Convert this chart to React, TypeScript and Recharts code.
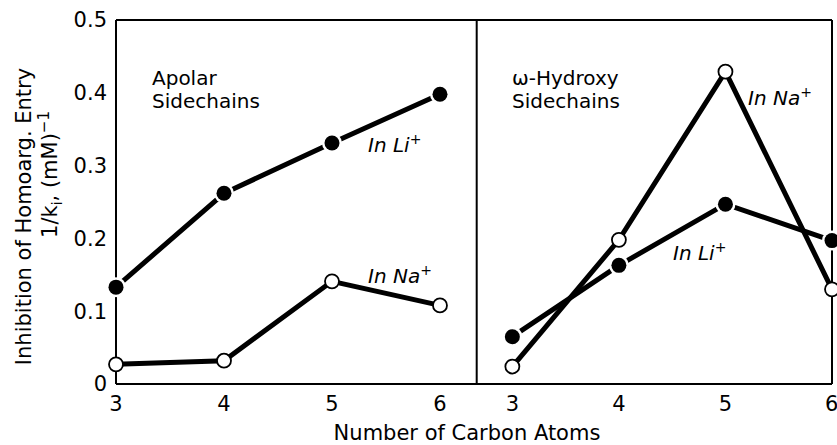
import { Line, LineChart, ReferenceLine, XAxis, YAxis } from 'recharts';

// number of carbon atoms in the sidechain
const carbons = [3, 4, 5, 6];

// 1/Ki, (mM)^-1
const apolarLi = [0.133, 0.262, 0.331, 0.398];
const apolarNa = [0.027, 0.032, 0.141, 0.108];
const hydroxyNa = [0.024, 0.198, 0.429, 0.13];
const hydroxyLi = [0.065, 0.163, 0.247, 0.197];

const yTicks = [0, 0.1, 0.2, 0.3, 0.4, 0.5];
const innerYTicks = [0.1, 0.2, 0.3, 0.4];
const apolarInnerX = [4, 5, 6];
const hydroxyInnerX = [3, 4, 5];

const apolarData = carbons.map((c, i) => ({ c, li: apolarLi[i], na: apolarNa[i] }));
const hydroxyData = carbons.map((c, i) => ({ c, li: hydroxyLi[i], na: hydroxyNa[i] }));

// both panels share one plot; each panel's scale runs over the full width
const A_DOMAIN = [3, 9.63];
const H_DOMAIN = [-0.72, 6];
const PANEL_SPLIT = 6.34; // on the apolar scale
const Y_DOMAIN = [0, 0.5];

const FONT = '"DejaVu Sans", sans-serif';
const INK = '#000';
const FRAME = { stroke: INK, strokeWidth: 2 };
const TICK_LABEL = { fill: INK, fontSize: 21, fontFamily: FONT };

const noLabel = () => <g />;

function FilledDot(props: any) {
  const { cx, cy, index } = props;
  return (
    <g key={`f-${index}`}>
      <circle cx={cx} cy={cy} r={10} fill="#fff" />
      <circle cx={cx} cy={cy} r={7.5} fill={INK} />
    </g>
  );
}

function OpenDot(props: any) {
  const { cx, cy, index } = props;
  return <circle key={`o-${index}`} cx={cx} cy={cy} r={7} fill="#fff" stroke={INK} strokeWidth={1.8} />;
}

const filledDot = (p: any) => <FilledDot {...p} />;
const openDot = (p: any) => <OpenDot {...p} />;

const txt = { position: 'absolute' as const, fontFamily: FONT, color: INK, whiteSpace: 'nowrap' as const, lineHeight: 1 };
const sup = { fontSize: 14, lineHeight: 0, verticalAlign: 'super' };

function Note({ left, top, italic, children }: any) {
  return (
    <div style={{ ...txt, left, top, fontSize: 20, fontStyle: italic ? 'italic' : 'normal' }}>{children}</div>
  );
}

export default function App() {
  return (
    <div style={{ position: 'absolute', left: 0, top: 0, width: 837, height: 445, background: '#fff', overflow: 'hidden' }}>
      <LineChart width={837} height={445} margin={{ top: 20, right: 0, bottom: 59, left: 0 }}>
        {/* labelled bottom axes, one per panel */}
        <XAxis
          xAxisId="a"
          dataKey="c"
          type="number"
          domain={A_DOMAIN}
          ticks={carbons}
          height={1}
          stroke={INK}
          axisLine={FRAME}
          tickLine={false}
          tickSize={0}
          tickMargin={12}
          tick={TICK_LABEL}
        />
        <XAxis
          xAxisId="h"
          dataKey="c"
          type="number"
          domain={H_DOMAIN}
          ticks={carbons}
          height={1}
          stroke={INK}
          axisLine={false}
          tickLine={false}
          tickSize={0}
          tickMargin={11}
          tick={TICK_LABEL}
        />
        {/* inward tick marks, bottom and top */}
        <XAxis xAxisId="ab" type="number" domain={A_DOMAIN} ticks={apolarInnerX} mirror height={1} stroke={INK} axisLine={false} tickLine={FRAME} tickSize={15} tick={noLabel} />
        <XAxis xAxisId="hb" type="number" domain={H_DOMAIN} ticks={hydroxyInnerX} mirror height={1} stroke={INK} axisLine={false} tickLine={FRAME} tickSize={15} tick={noLabel} />
        <XAxis xAxisId="at" orientation="top" type="number" domain={A_DOMAIN} ticks={apolarInnerX} mirror height={1} stroke={INK} axisLine={FRAME} tickLine={FRAME} tickSize={12} tick={noLabel} />
        <XAxis xAxisId="ht" orientation="top" type="number" domain={H_DOMAIN} ticks={hydroxyInnerX} mirror height={1} stroke={INK} axisLine={false} tickLine={FRAME} tickSize={12} tick={noLabel} />

        <YAxis
          yAxisId="y"
          type="number"
          domain={Y_DOMAIN}
          ticks={yTicks}
          width={116}
          stroke={INK}
          axisLine={FRAME}
          tickLine={false}
          tickSize={0}
          tickMargin={9}
          tick={TICK_LABEL}
        />
        <YAxis yAxisId="yl" type="number" domain={Y_DOMAIN} ticks={innerYTicks} mirror width={1} stroke={INK} axisLine={false} tickLine={FRAME} tickSize={16} tick={noLabel} />
        <YAxis yAxisId="yr" orientation="right" type="number" domain={Y_DOMAIN} ticks={yTicks} width={5} stroke={INK} axisLine={FRAME} tickLine={false} tick={false} />
        <YAxis yAxisId="yri" orientation="right" type="number" domain={Y_DOMAIN} ticks={innerYTicks} mirror width={1} stroke={INK} axisLine={false} tickLine={FRAME} tickSize={14} tick={noLabel} />

        <ReferenceLine xAxisId="a" yAxisId="y" x={PANEL_SPLIT} stroke={INK} strokeWidth={2} />

        <Line data={apolarData} xAxisId="a" yAxisId="y" dataKey="na" stroke={INK} strokeWidth={5} dot={openDot} isAnimationActive={false} />
        <Line data={apolarData} xAxisId="a" yAxisId="y" dataKey="li" stroke={INK} strokeWidth={5} dot={filledDot} isAnimationActive={false} />
        <Line data={hydroxyData} xAxisId="h" yAxisId="y" dataKey="li" stroke={INK} strokeWidth={5} dot={filledDot} isAnimationActive={false} />
        <Line data={hydroxyData} xAxisId="h" yAxisId="y" dataKey="na" stroke={INK} strokeWidth={5} dot={openDot} isAnimationActive={false} />
      </LineChart>

      {/* axis titles */}
      <div style={{ ...txt, left: -176, top: 206, width: 400, fontSize: 21, lineHeight: '21px', textAlign: 'center', transform: 'rotate(-90deg)' }}>
        Inhibition of Homoarg. Entry
      </div>
      <div style={{ ...txt, left: -150, top: 164, width: 400, fontSize: 21, lineHeight: '21px', textAlign: 'center', transform: 'rotate(-90deg)' }}>
        1/k<sub style={{ fontSize: 14, lineHeight: 0 }}>i</sub>, (mM)<sup style={{ fontSize: 15, lineHeight: 0 }}>−1</sup>
      </div>
      <div style={{ ...txt, left: 267, top: 423, width: 400, fontSize: 21, textAlign: 'center' }}>Number of Carbon Atoms</div>

      {/* panel captions and series notes */}
      <Note left={152} top={68}>Apolar</Note>
      <Note left={152} top={91}>Sidechains</Note>
      <Note left={512} top={68}>ω-Hydroxy</Note>
      <Note left={512} top={91}>Sidechains</Note>

      <Note left={368} top={135} italic>
        In Li<sup style={sup}>+</sup>
      </Note>
      <Note left={368} top={266} italic>
        In Na<sup style={sup}>+</sup>
      </Note>
      <Note left={748} top={88} italic>
        In Na<sup style={sup}>+</sup>
      </Note>
      <Note left={673} top={243} italic>
        In Li<sup style={sup}>+</sup>
      </Note>
    </div>
  );
}
